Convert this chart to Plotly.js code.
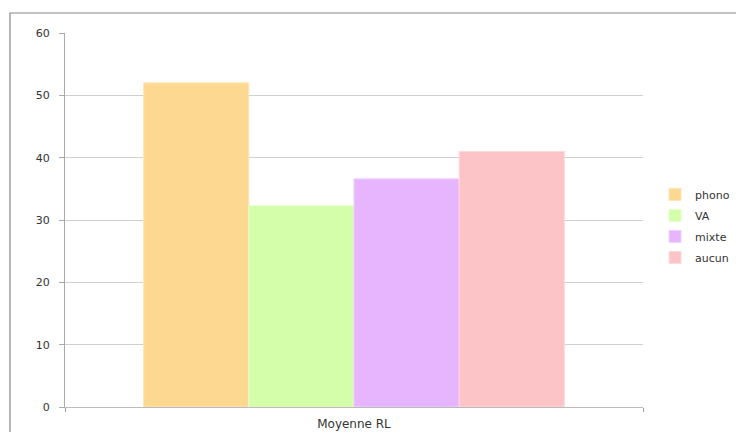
<!DOCTYPE html>
<html>
<head>
<meta charset="utf-8">
<script src="https://cdn.plot.ly/plotly-3.0.1.min.js"></script>
<style>html,body{margin:0;padding:0;background:#fff;}#chart{width:736px;height:432px;}</style>
</head>
<body>
<div id="chart"></div>
<script>
const categories = ['Moyenne RL'];
const seriesNames = ['phono', 'VA', 'mixte', 'aucun'];
const phono = [52];
const va = [32.3];
const mixte = [36.6];
const aucun = [41];
const yTicks = [0, 10, 20, 30, 40, 50, 60];

const values = [phono, va, mixte, aucun];
const colors = ['#FDD891', '#D4FEA9', '#E6B5FD', '#FCC4C7'];
const lines = ['#FEE6B8', '#E4FEC9', '#F0D0FE', '#FDDADC'];

const traces = seriesNames.map((n, i) => ({
  type: 'bar',
  name: n,
  legendgroup: n,
  x: categories,
  y: values[i],
  marker: {color: colors[i], line: {color: lines[i], width: 1}},
  hoverinfo: 'none'
}));

const layout = {
  width: 736, height: 432,
  margin: {l: 65, r: 93, t: 33, b: 25, autoexpand: false},
  paper_bgcolor: '#fff', plot_bgcolor: '#fff',
  font: {family: 'DejaVu Sans, Verdana, sans-serif', size: 11, color: '#333'},
  barmode: 'group',
  bargap: 0.272,
  bargroupgap: 0,
  showlegend: true,
  legend: {xref: 'container', yref: 'container', x: 0.89, xanchor: 'left',
           y: 0.477, yanchor: 'middle', traceorder: 'grouped',
           font: {size: 11, color: '#333'}, itemwidth: 30, tracegroupgap: 2,
           bgcolor: 'rgba(0,0,0,0)'},
  xaxis: {
    type: 'category', range: [-0.5, 0.5], tickson: 'boundaries',
    ticks: 'outside', ticklen: 4, tickcolor: '#999',
    tickfont: {size: 12, color: '#333'},
    showline: true, linecolor: '#bbb', linewidth: 1,
    showgrid: false, zeroline: false, fixedrange: true, ticklabelstandoff: 6
  },
  yaxis: {
    range: [0, 60], tickvals: yTicks, ticktext: yTicks.map(String),
    ticks: 'outside', ticklen: 5, tickcolor: '#aaa',
    tickfont: {size: 11, color: '#333'},
    showline: true, linecolor: '#aaa', linewidth: 1,
    showgrid: true, gridcolor: '#d0d0d0', gridwidth: 1,
    zeroline: false, ticklabelstandoff: 7, fixedrange: true
  },
  shapes: [{
    type: 'rect', xref: 'paper', yref: 'paper',
    x0: -0.0952, x1: 1.5, y0: -0.5, y1: 1.0535,
    line: {color: '#888', width: 1.2}, fillcolor: 'rgba(0,0,0,0)', layer: 'below'
  }]
};

Plotly.newPlot('chart', traces, layout, {displayModeBar: false, staticPlot: true});
</script>
</body>
</html>
